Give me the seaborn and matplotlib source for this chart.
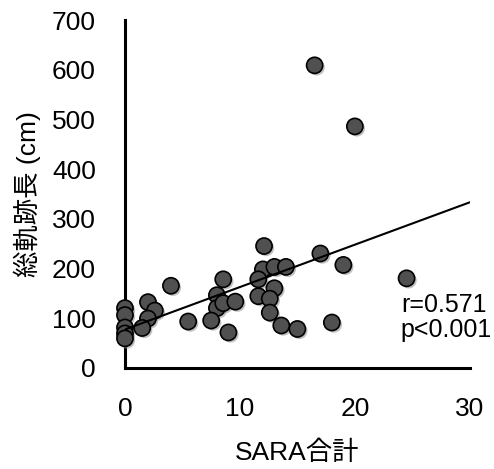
import matplotlib
matplotlib.use('Agg')
import matplotlib.pyplot as plt
import matplotlib.patheffects as pe
import numpy as np
import pandas as pd
import seaborn as sns

# values
sara_total = [16.5, 20.0, 12.1, 17.0, 19.0, 24.5, 12.0, 13.0, 14.0, 11.6,
              13.0, 8.55, 4.0, 11.6, 12.6, 12.6, 8.0, 8.0, 8.55, 9.6,
              7.5, 5.5, 9.0, 13.6, 15.0, 18.0, 2.0, 2.6, 2.0, 1.5,
              0.0, 0.0, 0.0, 0.0, 0.0]
path_length = [609, 486, 245, 230, 207, 180, 198, 203, 203, 178,
               160, 178, 165, 144, 139, 111, 146, 120, 130, 133,
               95, 93, 71, 85, 78, 91, 132, 115, 99, 80,
               120, 106, 81, 69, 59]

r_text = 'r=0.571'
p_text = 'p<0.001'

df = pd.DataFrame({'sara': sara_total, 'length': path_length})

sns.set_style('white')
plt.rcParams['font.family'] = ['Liberation Sans', 'Noto Sans CJK JP', 'DejaVu Sans']
plt.rcParams['text.color'] = 'black'
plt.rcParams['axes.labelcolor'] = 'black'
plt.rcParams['xtick.color'] = 'black'
plt.rcParams['ytick.color'] = 'black'

fig = plt.figure(figsize=(4.94, 4.69), dpi=100)
ax = fig.add_axes([0.253, 0.216, 0.698, 0.741])
ax.set_xlim(0, 30)
ax.set_ylim(0, 700)

shadow = [pe.SimplePatchShadow(offset=(1.5, -1.5), shadow_rgbFace='#999999', alpha=0.6), pe.Normal()]
sns.scatterplot(data=df, x='sara', y='length', ax=ax, s=135, color='#505050',
                edgecolor='black', linewidth=1.2, zorder=3, clip_on=False)
for coll in ax.collections:
    coll.set_path_effects(shadow)

# fitted line drawn over the markers, as in the original
sns.regplot(data=df, x='sara', y='length', ax=ax, scatter=False, ci=None,
            truncate=False, line_kws={'color': 'black', 'linewidth': 1.5, 'zorder': 4})

ax.set_xlim(0, 30)
ax.set_ylim(0, 700)
ax.set_xticks([0, 10, 20, 30])
ax.set_yticks(range(0, 701, 100))
for side in ['top', 'right']:
    ax.spines[side].set_visible(False)
for side in ['left', 'bottom']:
    ax.spines[side].set_linewidth(2.2)
    ax.spines[side].set_color('black')
ax.tick_params(axis='both', direction='out', length=9, width=2.2, color='black',
               labelcolor='black', labelsize=19, pad=12)
ax.tick_params(axis='x', pad=12)

ax.set_xlabel('SARA合計', fontsize=19, labelpad=14)
ax.set_ylabel('総軌跡長 (cm)', fontsize=19, labelpad=8)

ax.text(0.80, 0.215, r_text + '\n' + p_text, transform=ax.transAxes,
        fontsize=18, va='top', ha='left', linespacing=1.05)

fig.savefig('out.png', dpi=100)
